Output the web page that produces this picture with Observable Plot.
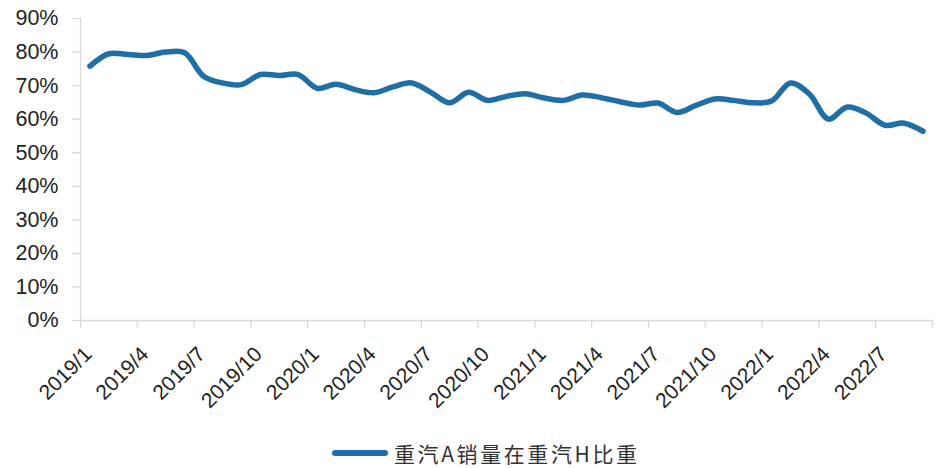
<!DOCTYPE html>
<html>
<head>
<meta charset="utf-8">
<script src="https://cdn.jsdelivr.net/npm/d3@7"></script>
<script src="https://cdn.jsdelivr.net/npm/@observablehq/plot@0.6"></script>
<style>
  html, body { margin: 0; padding: 0; background: #fff; }
  #wrap { position: relative; width: 938px; height: 468px; overflow: hidden; }
  #legend { position: absolute; left: 332px; top: 438px; height: 30px; display: flex; align-items: center;
            font-family: "Noto Sans CJK SC", sans-serif; font-size: 21px; color: #333; letter-spacing: 2.6px; }
  #legend svg { margin-right: 6px; }
</style>
</head>
<body>
<div id="wrap">
  <div id="chart"></div>
  <div id="legend"></div>
</div>
<script>
const months = [
  "2019/1","2019/2","2019/3","2019/4","2019/5","2019/6","2019/7","2019/8","2019/9","2019/10","2019/11","2019/12",
  "2020/1","2020/2","2020/3","2020/4","2020/5","2020/6","2020/7","2020/8","2020/9","2020/10","2020/11","2020/12",
  "2021/1","2021/2","2021/3","2021/4","2021/5","2021/6","2021/7","2021/8","2021/9","2021/10","2021/11","2021/12",
  "2022/1","2022/2","2022/3","2022/4","2022/5","2022/6","2022/7","2022/8","2022/9"
];
const shareA = [
  75.8, 79.5, 79.3, 79.0, 80.0, 79.8, 72.8, 70.8, 70.3, 73.3, 73.0, 73.3,
  69.2, 70.4, 68.8, 67.9, 69.6, 70.8, 68.0, 64.9, 68.0, 65.6, 66.8, 67.6,
  66.3, 65.6, 67.2, 66.4, 65.2, 64.2, 64.8, 62.0, 64.1, 66.0, 65.6, 64.9,
  65.4, 70.8, 67.5, 60.0, 63.6, 61.8, 58.2, 58.8, 56.4
];
const xTickLabels = ["2019/1","2019/4","2019/7","2019/10","2020/1","2020/4","2020/7","2020/10",
                     "2021/1","2021/4","2021/7","2021/10","2022/1","2022/4","2022/7"];
const yTicks = [0, 0.1, 0.2, 0.3, 0.4, 0.5, 0.6, 0.7, 0.8, 0.9];
const seriesName = "重汽A销量在重汽H比重";
const lineColor = "#1f6ea8";
const axisColor = "#d9d9d9";
const textColor = "#222";

const data = months.map((m, i) => ({i, month: m, value: shareA[i] / 100}));
const labelData = xTickLabels.map(l => ({l, i: months.indexOf(l)}));
const boundaries = labelData.map(d => d.i - 0.5).concat([months.length - 0.5]);

const chart = Plot.plot({
  width: 938,
  height: 430,
  marginLeft: 80,
  marginRight: 6,
  marginTop: 18,
  marginBottom: 110,
  style: {fontFamily: "'Liberation Sans', Arial, sans-serif", background: "#fff"},
  x: {type: "linear", domain: [-0.5, months.length - 0.5], axis: null},
  y: {domain: [0, 0.9], axis: null},
  marks: [
    Plot.ruleX([-0.5], {y1: 0, y2: 0.9, stroke: axisColor, strokeWidth: 1.3}),
    Plot.ruleY(yTicks, {y: d => d, x1: -0.5, x2: -0.5, insetLeft: -8, stroke: axisColor, strokeWidth: 1.3}),
    Plot.text(yTicks, {x: -0.5, y: d => d, text: d => Math.round(d * 100) + "%", textAnchor: "end",
      dx: -22, fontSize: 21.5, fill: textColor}),
    Plot.ruleY([0], {x1: -0.5, x2: months.length - 0.5, stroke: axisColor, strokeWidth: 1.3}),
    Plot.ruleX(boundaries, {x: d => d, y1: 0, y2: 0, insetBottom: -8, stroke: axisColor, strokeWidth: 1.3}),
    Plot.text(labelData, {x: "i", y: 0, text: "l", rotate: -45, textAnchor: "end", lineAnchor: "bottom",
      dx: 3, dy: 35, fontSize: 21, fill: textColor}),
    Plot.line(data, {x: "i", y: "value", stroke: lineColor, strokeWidth: 5.5, curve: "catmull-rom",
      strokeLinecap: "round", strokeLinejoin: "round"})
  ]
});
document.getElementById("chart").appendChild(chart);

const legend = document.getElementById("legend");
legend.innerHTML = `<svg width="56" height="10"><line x1="3" y1="5" x2="53" y2="5" stroke="${lineColor}" stroke-width="6" stroke-linecap="round"/></svg><span>${seriesName}</span>`;
</script>
</body>
</html>
